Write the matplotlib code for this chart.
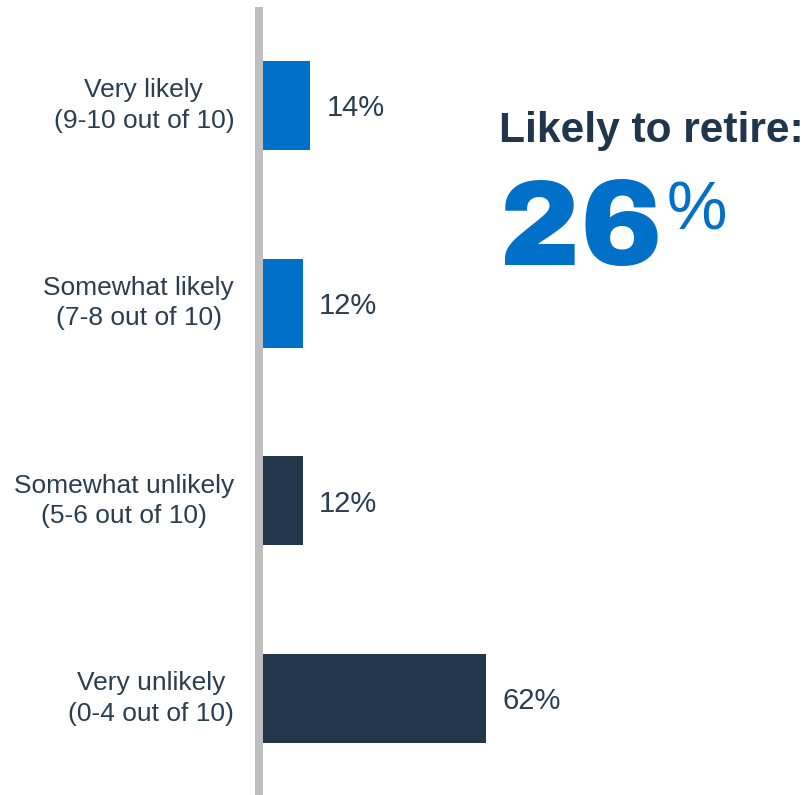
import matplotlib
matplotlib.use("Agg")
import matplotlib.pyplot as plt

categories = ["Very likely\n(9-10 out of 10)", "Somewhat likely\n(7-8 out of 10)",
              "Somewhat unlikely\n(5-6 out of 10)", "Very unlikely\n(0-4 out of 10)"]
values = [14, 12, 12, 62]
bar_colors = ["#0070C8", "#0070C8", "#22374C", "#22374C"]
headline = "Likely to retire:"
headline_value = "26"

BLUE = "#0070C8"
TEXT = "#2B3D50"

plt.rcParams["font.family"] = ["Liberation Sans", "DejaVu Sans"]

W, H = 807, 795
fig = plt.figure(figsize=(W / 100, H / 100), dpi=100)

px_per_unit = 3.67
zero_px = 258.5
left_px = 250
top_px = 7
ax = fig.add_axes([left_px / W, 0, 1 - left_px / W, (H - top_px) / H])
xmin = -(zero_px - left_px) / px_per_unit
ax.set_xlim(xmin, xmin + (W - left_px) / px_per_unit)
step = 197.7
ax.set_ylim(3 + (H - 698.5) / step, -(105.5 - top_px) / step)
ax.axis("off")

ypos = list(range(len(values)))
ax.barh(ypos, values, height=0.45, color=bar_colors, left=0, zorder=2)

# grey baseline drawn over the bar roots
ax.axvspan(-3.7 / px_per_unit, 4.3 / px_per_unit, color="#BFBFBF", lw=0, zorder=3)

for y, v, c in zip(ypos, values, categories):
    ax.annotate(f"{v}%", xy=(v, y), xytext=(12, -2), textcoords="offset points",
                va="center", ha="left", fontsize=21, color=TEXT)
    ax.annotate(c, xy=(0, y), xytext=(-17.5, 0), textcoords="offset points",
                ha="right", va="center", multialignment="center", fontsize=19,
                color=TEXT, linespacing=1.33)

fig.text(499 / W, 1 - 142 / H, headline, fontsize=30.6, fontweight="bold",
         color="#1F364C", ha="left", va="baseline")
fig.text(499 / W, 1 - 265 / H, headline_value, fontsize=88, fontweight="black",
         family=["Archivo Black", "Montserrat", "Lato"], color=BLUE, ha="left", va="baseline")
fig.text(667 / W, 1 - 229 / H, "%", fontsize=49, color=BLUE, ha="left", va="baseline")

fig.savefig("out.png", dpi=100, facecolor="white")
